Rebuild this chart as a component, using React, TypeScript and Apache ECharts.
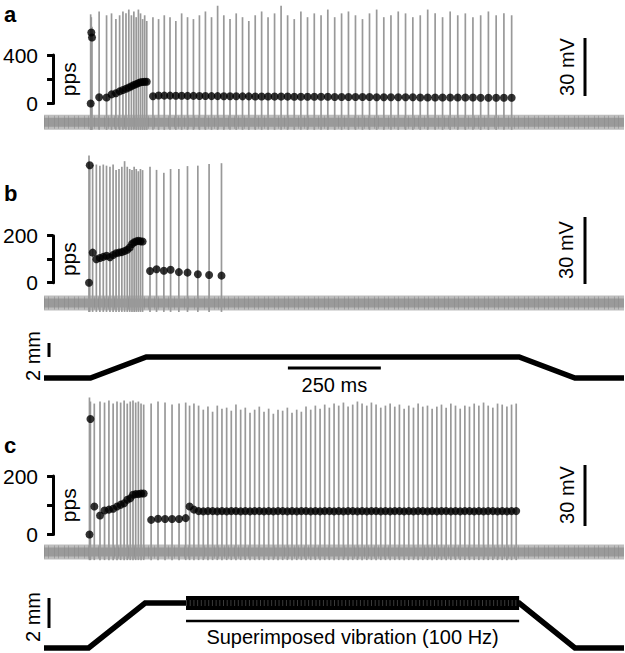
import React, { useEffect, useRef } from "react";
import * as echarts from "echarts";

// ---------- layout constants ----------
const W = 625;
const H = 653;
const LEFT = 44;
const PLOT_W = 580;
const T_MAX = 1560; // ms
const PX_PER_MS = PLOT_W / T_MAX;
const BRACKET_X = 53;
const FONT = "'Liberation Sans', Arial, Helvetica, sans-serif";
const SPIKE_FLOOR = -4; // mV, trough of each spike line

// ---------- data ----------
// Time of first spike (ms) in each recording
const A_ONSET = 125.5;
const B_ONSET = 121;
const C_ONSET = 122.3;

// Instantaneous firing rate (pps) at each spike (first spike = 0)
const A_RATES = [
  0, 585, 545,
  52, 50, 75, 85, 100, 112, 122, 132, 142, 152, 160, 168, 175, 178, 180, 180,
  60,
  66, 65, 65, 64, 64, 63, 63, 62, 62, 61,
  61, 60, 60, 60, 59, 59, 58, 58, 58, 57,
  57, 57, 56, 56, 56, 55, 55, 55, 54, 54,
  54, 53, 53, 53, 52, 52, 52, 51, 51, 51,
  50, 50, 50, 50, 49, 49, 49, 49, 48, 48,
  48, 48, 48,
];
// Spike peak (mV above baseline)
const A_PEAKS = [
  56.5, 55, 50,
  58, 56, 57, 54, 56, 58, 57, 59, 56, 58, 55, 59, 57, 54, 56, 53,
  55,
  54, 56, 55, 53, 57, 55, 54, 56, 58, 55,
  61, 56, 54, 57, 55, 53, 56, 58, 55, 57,
  61, 56, 54, 58, 55, 57, 56, 59, 55, 57,
  58, 56, 54, 57, 59, 55, 56, 58, 57, 55,
  56, 59, 57, 55, 58, 56, 57, 55, 56, 58,
  56, 57, 56,
];

const B_RATES = [
  0, 500, 128,
  100, 105, 110, 115, 108, 118, 125, 128, 130, 135, 140, 150, 165, 172, 176, 178, 176, 175,
  50, 57, 51, 55, 45, 43, 36, 33, 30,
];
const B_PEAKS = [
  66, 61, 62,
  62, 61.5, 62, 61.5, 61, 62, 59.5, 60, 61, 63.5, 61, 60, 59.5, 61, 60, 59, 60, 59.5,
  61, 59.6, 58.3, 60, 60, 61.3, 61.5, 62.2, 62.6,
];

const C_RATES = [
  0, 395, 96,
  65, 82, 85, 88, 96, 102, 107, 119, 124, 136, 138, 138, 140, 140,
  50, 54, 53, 53, 53, 56,
  96, 85,
  80, 79, 80, 80, 79, 80, 79, 80, 80, 79,
  80, 79, 80, 80, 79, 80, 79, 80, 80, 79,
  80, 79, 80, 80, 79, 80, 79, 80, 80, 79,
  80, 79, 80, 80, 79, 80, 79, 80, 80, 79,
  80, 79, 80, 80, 79, 80, 79, 80, 80, 79,
  80, 79, 80, 80, 79, 80, 79, 80, 80, 79,
  80, 79, 80, 80, 79, 80, 79, 80, 80,
];
const C_PEAKS = [
  76, 74, 73,
  74, 73.5, 74.5, 73, 74, 73.5, 74.5, 73, 74, 74.5, 73.5, 74, 73, 72.5,
  73, 74, 73.5, 72.5, 73, 73.5,
  72, 73,
  72, 70, 71.5, 69, 72, 70.5, 71, 69.5, 72.5, 70,
  71, 68.5, 70, 71.5, 69, 70.5, 68, 70, 69.5, 71,
  68.5, 70, 69, 71.5, 70, 72, 70.5, 72.5, 71, 73,
  72, 73.5, 71.5, 72.5, 74, 73, 72, 73.5, 72.5, 71,
  72, 73, 71.5, 72.5, 70.5, 72, 71, 73, 71.5, 72,
  70.5, 71.5, 72.5, 71, 73, 72, 70.5, 72, 71.5, 73,
  72, 73.5, 72, 71, 73, 72.5, 71.5, 72.5, 73,
];

// Skin indentation stimulus (ms, mm)
const STIM_B_T = [0, 125, 275, 1278, 1428, 1560];
const STIM_B_MM = [0, 0, 3, 3, 0, 0];
const STIM_C_T = [0, 120, 272, 1278, 1428, 1560];
const STIM_C_MM = [0, 0, 3, 3, 0, 0];
const VIB_T = [382, 1278]; // superimposed 100 Hz vibration
const TIME_BAR_T = [656, 906]; // 250 ms scale bar

// ---------- panel geometry ----------
type Panel = {
  zeroY: number; pxPerMv: number; vMin: number; vMax: number;
  rateTop: number; rateBottom: number; rateMax: number;
  onset: number; rates: number[]; peaks: number[];
  mvBarTop: number; mvTextY: number; pxTextX: number;
};
const PANELS: Panel[] = [
  { zeroY: 122, pxPerMv: 58 / 30, vMin: -10, vMax: 64, rateTop: 55, rateBottom: 103.5, rateMax: 400,
    onset: A_ONSET, rates: A_RATES, peaks: A_PEAKS, mvBarTop: 38, mvTextY: 67, pxTextX: 567 },
  { zeroY: 303, pxPerMv: 67 / 30, vMin: -10, vMax: 70, rateTop: 235.7, rateBottom: 282.7, rateMax: 200,
    onset: B_ONSET, rates: B_RATES, peaks: B_PEAKS, mvBarTop: 217, mvTextY: 250, pxTextX: 566 },
  { zeroY: 552, pxPerMv: 61 / 30, vMin: -10, vMax: 80, rateTop: 476, rateBottom: 534.5, rateMax: 200,
    onset: C_ONSET, rates: C_RATES, peaks: C_PEAKS, mvBarTop: 465, mvTextY: 495, pxTextX: 567 },
];
const STIMS = [
  { t: STIM_B_T, mm: STIM_B_MM, zeroY: 378, pxPerMm: 7, mmMin: -1, mmMax: 4.5, barBottom: 357, textY: 356 },
  { t: STIM_C_T, mm: STIM_C_MM, zeroY: 648, pxPerMm: 15, mmMin: -0.3, mmMax: 3.6, barBottom: 628, textY: 617 },
];

function spikeTimes(onset: number, rates: number[]): number[] {
  const out: number[] = [];
  let t = onset;
  rates.forEach((r, i) => {
    if (i > 0) t += 1000 / r;
    out.push(t);
  });
  return out;
}

function buildOption() {
  const grid: any[] = [];
  const xAxis: any[] = [];
  const yAxis: any[] = [];
  const series: any[] = [];
  const graphic: any[] = [];
  const rateXMin = (BRACKET_X - LEFT) / PX_PER_MS;

  const addGrid = (top: number, height: number, left: number, width: number, xmin: number) => {
    const idx = grid.length;
    grid.push({ left, top, width, height, containLabel: false });
    xAxis.push({ gridIndex: idx, type: "value", min: xmin, max: T_MAX, show: false });
    return idx;
  };

  const gray = "#999999";

  PANELS.forEach((p, pi) => {
    const times = spikeTimes(p.onset, p.rates);
    // voltage grid
    const vTop = p.zeroY - p.vMax * p.pxPerMv;
    const vH = (p.vMax - p.vMin) * p.pxPerMv;
    const vi = addGrid(vTop, vH, LEFT, PLOT_W, 0);
    yAxis.push({ gridIndex: vi, type: "value", min: p.vMin, max: p.vMax, show: false });
    // noise band (layers)
    series.push({
      type: "line", xAxisIndex: vi, yAxisIndex: vi, data: [[0, 0], [T_MAX, 0]],
      symbol: "none", silent: true, z: 1, lineStyle: { color: "#bdbdbd", width: 15, cap: "butt" },
    });
    series.push({
      type: "line", xAxisIndex: vi, yAxisIndex: vi, data: [[0, 0], [T_MAX, 0]],
      symbol: "none", silent: true, z: 1, lineStyle: { color: "#9a9a9a", width: 9, cap: "butt" },
    });
    series.push({
      type: "line", xAxisIndex: vi, yAxisIndex: vi, data: [[0, 0], [T_MAX, 0]],
      symbol: "none", silent: true, z: 1, lineStyle: { color: "#8c8c8c", width: 13, type: [1, 3, 1, 5], cap: "butt", opacity: 0.6 },
    });
    // spikes
    series.push({
      type: "custom", xAxisIndex: vi, yAxisIndex: vi, z: 2, clip: false, silent: true,
      data: times.map((t, i) => [t, p.peaks[i] ?? p.peaks[p.peaks.length - 1]]),
      encode: { x: 0, y: 1 },
      renderItem: (_params: any, api: any) => {
        const a = api.coord([api.value(0), SPIKE_FLOOR]);
        const b = api.coord([api.value(0), api.value(1)]);
        return {
          type: "line",
          shape: { x1: a[0], y1: a[1], x2: b[0], y2: b[1] },
          style: { stroke: gray, lineWidth: 1.7 },
        };
      },
    });
    // rate grid (bracket axis)
    const ri = addGrid(p.rateTop, p.rateBottom - p.rateTop, BRACKET_X, LEFT + PLOT_W - BRACKET_X, rateXMin);
    yAxis.push({
      gridIndex: ri, type: "value", min: 0, max: p.rateMax, interval: p.rateMax / 2,
      axisLine: { show: true, lineStyle: { color: "#000", width: 3 } },
      axisTick: { show: true, length: 6, lineStyle: { color: "#000", width: 3 } },
      splitLine: { show: false },
      axisLabel: {
        show: true, margin: 15, color: "#000", fontSize: 21, fontFamily: FONT,
        formatter: (v: number) => (v === p.rateMax / 2 ? "" : String(v)),
      },
    });
    series.push({
      type: "scatter", xAxisIndex: ri, yAxisIndex: ri, z: 5, clip: false, silent: true,
      symbolSize: 8, itemStyle: { color: "#000" },
      data: times.map((t, i) => [t, p.rates[i]]),
    });

    // pps label
    graphic.push({
      type: "text", x: 68, y: (p.rateTop + p.rateBottom) / 2, rotation: Math.PI / 2,
      style: { text: "pps", fontSize: 21, fontFamily: FONT, fill: "#000", align: "center", verticalAlign: "middle" },
    });
    // 30 mV scale bar
    const barLen = 30 * p.pxPerMv;
    graphic.push({
      type: "line", shape: { x1: 585, y1: p.mvBarTop, x2: 585, y2: p.mvBarTop + barLen },
      style: { stroke: "#000", lineWidth: 3 },
    });
    graphic.push({
      type: "text", x: p.pxTextX, y: p.mvTextY, rotation: Math.PI / 2,
      style: { text: "30 mV", fontSize: 20, fontFamily: FONT, fill: "#000", align: "center", verticalAlign: "middle" },
    });
    // panel letter
    const letterY = [14, 193, 445][pi];
    graphic.push({
      type: "text", x: 4, y: letterY,
      style: { text: ["a", "b", "c"][pi], fontSize: 22, fontWeight: "bold", fontFamily: FONT, fill: "#000", align: "left", verticalAlign: "middle" },
    });

    // stimulus grid after panels b and c
    if (pi >= 1) {
      const s = STIMS[pi - 1];
      const sTop = s.zeroY - s.mmMax * s.pxPerMm;
      const sH = (s.mmMax - s.mmMin) * s.pxPerMm;
      const si = addGrid(sTop, sH, LEFT, PLOT_W, 0);
      yAxis.push({ gridIndex: si, type: "value", min: s.mmMin, max: s.mmMax, show: false });
      series.push({
        type: "line", xAxisIndex: si, yAxisIndex: si, symbol: "none", silent: true, z: 3,
        data: s.t.map((t, i) => [t, s.mm[i]]),
        lineStyle: { color: "#000", width: 5.5, cap: "butt", join: "miter" },
      });
      if (pi === 2) {
        series.push({
          type: "line", xAxisIndex: si, yAxisIndex: si, symbol: "none", silent: true, z: 3,
          data: VIB_T.map((t) => [t, s.mm[2]]),
          lineStyle: { color: "#000", width: 14, cap: "butt" },
        });
        series.push({
          type: "line", xAxisIndex: si, yAxisIndex: si, symbol: "none", silent: true, z: 4,
          data: VIB_T.map((t) => [t, s.mm[2]]),
          lineStyle: { color: "#3a3a3a", width: 6, type: [1, 2.7], cap: "butt" },
        });
        const x1 = LEFT + VIB_T[0] * PX_PER_MS;
        const x2 = LEFT + VIB_T[1] * PX_PER_MS;
        graphic.push({ type: "line", shape: { x1, y1: 621, x2, y2: 621 }, style: { stroke: "#000", lineWidth: 2.5 } });
        graphic.push({
          type: "text", x: (x1 + x2) / 2, y: 637,
          style: { text: "Superimposed vibration (100 Hz)", fontSize: 20, fontFamily: FONT, fill: "#000", align: "center", verticalAlign: "middle" },
        });
      } else {
        const x1 = LEFT + TIME_BAR_T[0] * PX_PER_MS;
        const x2 = LEFT + TIME_BAR_T[1] * PX_PER_MS;
        graphic.push({ type: "line", shape: { x1, y1: 368, x2, y2: 368 }, style: { stroke: "#000", lineWidth: 3 } });
        graphic.push({
          type: "text", x: (x1 + x2) / 2, y: 385,
          style: { text: "250 ms", fontSize: 20, fontFamily: FONT, fill: "#000", align: "center", verticalAlign: "middle" },
        });
      }
      // 2 mm scale bar
      const mmLen = 2 * s.pxPerMm;
      graphic.push({
        type: "line", shape: { x1: 49, y1: s.barBottom - mmLen, x2: 49, y2: s.barBottom },
        style: { stroke: "#000", lineWidth: 3 },
      });
      graphic.push({
        type: "text", x: 33, y: s.textY, rotation: Math.PI / 2,
        style: { text: "2 mm", fontSize: 20, fontFamily: FONT, fill: "#000", align: "center", verticalAlign: "middle" },
      });
    }
  });

  return {
    animation: false,
    backgroundColor: "#fff",
    grid, xAxis, yAxis, series, graphic,
  };
}

export default function App() {
  const ref = useRef<HTMLDivElement>(null);
  useEffect(() => {
    if (!ref.current) return;
    const chart = echarts.init(ref.current, undefined, { renderer: "svg", width: W, height: H });
    chart.setOption(buildOption() as any);
    return () => chart.dispose();
  }, []);
  return (
    <div
      ref={ref}
      style={{ position: "fixed", left: 0, top: 0, width: W, height: H, background: "#fff" }}
    />
  );
}
